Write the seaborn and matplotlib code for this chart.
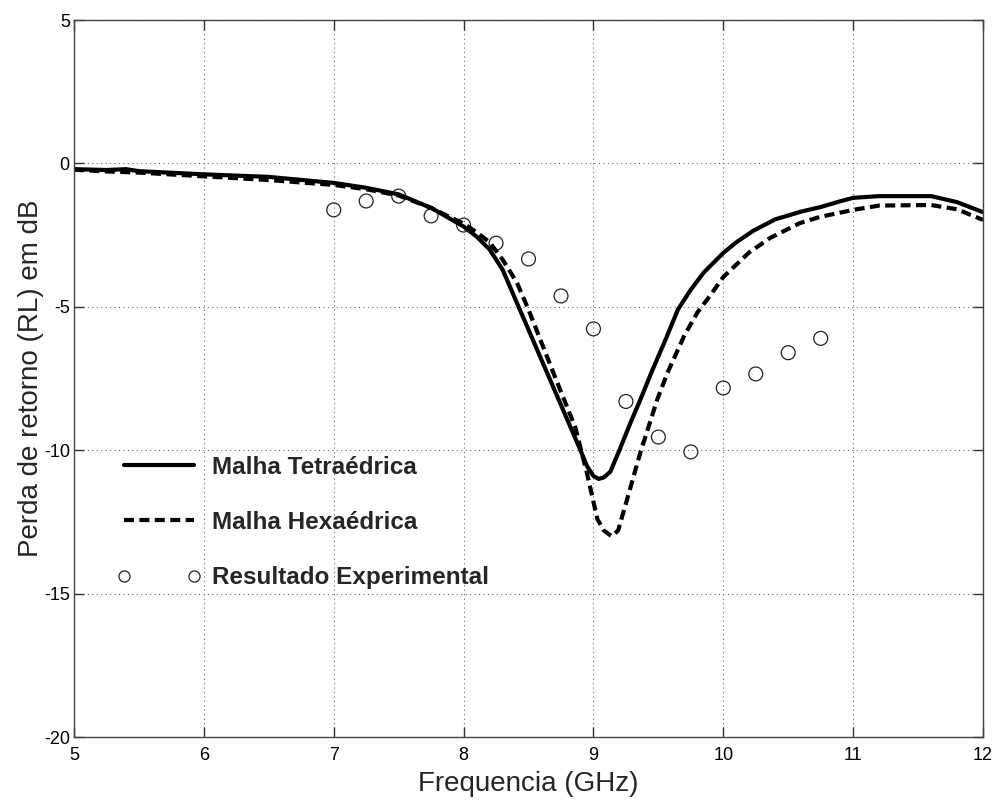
import numpy as np
import pandas as pd
import matplotlib
matplotlib.use("Agg")
import matplotlib.pyplot as plt
import seaborn as sns
from matplotlib.lines import Line2D

# ---- data ----
freq_tetra = [5.0, 5.25, 5.4, 5.5, 6.0, 6.5, 7.0, 7.25, 7.5, 7.75, 8.0, 8.1,
              8.2, 8.3, 8.4, 8.5, 8.6, 8.7, 8.8, 8.9, 8.95, 9.0, 9.04, 9.08,
              9.13, 9.2, 9.28, 9.36, 9.45, 9.55, 9.65, 9.75, 9.85, 10.0, 10.1,
              10.23, 10.4, 10.6, 10.75, 10.9, 11.0, 11.2, 11.6, 11.8, 12.0]
rl_tetra = [-0.20, -0.23, -0.20, -0.27, -0.38, -0.47, -0.68, -0.85, -1.08, -1.55,
            -2.20, -2.55, -3.00, -3.70, -4.75, -5.80, -6.85, -7.90, -8.95, -10.0,
            -10.55, -10.9, -11.0, -10.95, -10.75, -10.0, -9.10, -8.25, -7.25,
            -6.20, -5.10, -4.40, -3.80, -3.12, -2.75, -2.35, -1.95, -1.68, -1.52,
            -1.32, -1.20, -1.14, -1.14, -1.35, -1.70]

freq_hexa = [5.0, 5.25, 5.5, 6.0, 6.5, 7.0, 7.25, 7.5, 7.75, 8.0, 8.1, 8.2,
             8.3, 8.41, 8.5, 8.6, 8.7, 8.78, 8.86, 8.95, 9.03, 9.08, 9.14, 9.19,
             9.26, 9.36, 9.49, 9.57, 9.7, 9.8, 9.9, 10.0, 10.2, 10.36, 10.59,
             10.74, 11.0, 11.2, 11.6, 11.8, 12.0]
rl_hexa = [-0.22, -0.28, -0.32, -0.45, -0.58, -0.75, -0.90, -1.12, -1.55, -2.10,
           -2.40, -2.75, -3.35, -4.15, -5.10, -6.25, -7.40, -8.30, -9.20, -10.8,
           -12.4, -12.8, -13.0, -12.8, -11.7, -10.1, -8.25, -7.30, -6.00, -5.20,
           -4.60, -3.96, -3.10, -2.60, -2.08, -1.87, -1.62, -1.47, -1.45, -1.60,
           -1.97]

freq_exp = [7.0, 7.25, 7.5, 7.75, 8.0, 8.25, 8.5, 8.75, 9.0, 9.25, 9.5, 9.75,
            10.0, 10.25, 10.5, 10.75]
rl_exp = [-1.62, -1.31, -1.14, -1.83, -2.15, -2.78, -3.33, -4.62, -5.77, -8.30,
          -9.54, -10.06, -7.83, -7.34, -6.60, -6.10]

labels = ["Malha Tetraédrica", "Malha Hexaédrica", "Resultado Experimental"]
xticks = [5, 6, 7, 8, 9, 10, 11, 12]
yticks = [5, 0, -5, -10, -15, -20]

df_t = pd.DataFrame({"f": freq_tetra, "rl": rl_tetra})
df_h = pd.DataFrame({"f": freq_hexa, "rl": rl_hexa})
df_e = pd.DataFrame({"f": freq_exp, "rl": rl_exp})

sns.set_style("ticks")
plt.rcParams["font.family"] = ["Liberation Sans", "DejaVu Sans"]
plt.rcParams["axes.unicode_minus"] = False

DASH = (0, (2.4, 1.3))

fig = plt.figure(figsize=(9.99, 8.01), dpi=100)
ax = fig.add_axes([0.0741, 0.0799, 0.9099, 0.8951])

sns.lineplot(data=df_t, x="f", y="rl", ax=ax, color="black", linewidth=3.0,
             sort=False, estimator=None)
sns.lineplot(data=df_h, x="f", y="rl", ax=ax, color="black", linewidth=3.0,
             sort=False, estimator=None, linestyle=DASH)
sns.scatterplot(data=df_e, x="f", y="rl", ax=ax, marker="o", s=100,
                facecolor="none", edgecolor="#222222", linewidth=0.9)

ax.set_xlim(5, 12)
ax.set_ylim(-20, 5)
ax.set_xticks(xticks)
ax.set_yticks(yticks)
ax.grid(True, linestyle=(0, (1, 3)), color="#666666", linewidth=0.8)
ax.tick_params(direction="in", length=7, width=1.0, labelsize=13,
               top=True, right=True, colors="#333333", labelcolor="black")
ax.tick_params(axis="x", pad=7)
ax.tick_params(axis="y", pad=3)
for s in ax.spines.values():
    s.set_color("#444444")
    s.set_linewidth(1.0)
    s.set_visible(True)

ax.set_xlabel("Frequencia (GHz)", fontsize=20, labelpad=5)
ax.set_ylabel("Perda de retorno (RL) em dB", fontsize=20, labelpad=0)

handles = [Line2D([], [], color="black", linewidth=3.0),
           Line2D([], [], color="black", linewidth=3.0, linestyle=DASH),
           Line2D([], [], color="#222222", marker="o", linestyle="none",
                  markerfacecolor="none", markersize=8, markeredgewidth=0.9)]
leg = ax.legend(handles, labels, loc="upper left", bbox_to_anchor=(0.023, 0.423),
                frameon=False, numpoints=2, handlelength=3.46, handletextpad=0.46,
                labelspacing=1.33, borderaxespad=0.5,
                prop={"size": 17.5, "weight": "bold"})

fig.savefig("out.png", dpi=100)
